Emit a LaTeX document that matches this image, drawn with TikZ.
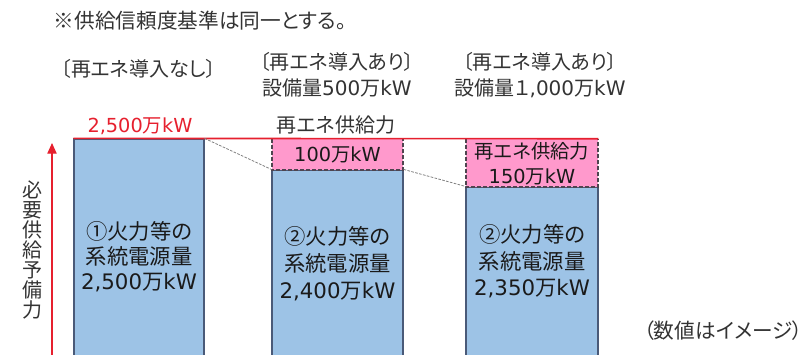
\documentclass[tikz,border=0pt]{standalone}
\usepackage{fontspec}
\setmainfont{Noto Sans CJK JP}[RawFeature=+palt]
\newfontfamily\lat{DejaVu Sans}
\usetikzlibrary{fit,arrows.meta}
\definecolor{barblue}{HTML}{9DC3E6}
\definecolor{barline}{HTML}{4A5A78}
\definecolor{renpink}{HTML}{FF99CC}
\definecolor{redline}{HTML}{E6202E}
\definecolor{pinkedge}{HTML}{4F4550}
\definecolor{connline}{HTML}{808080}
\definecolor{txtgray}{HTML}{333333}
\definecolor{bartext}{HTML}{1A1A1A}
\begin{document}
\begin{tikzpicture}[x=0.75pt,y=-0.75pt,
  txt/.style={font=\fontsize{15}{19.5}\selectfont, text=txtgray, inner sep=0pt, align=center},
  redtxt/.style={font=\fontsize{14.5}{19.5}\selectfont, text=redline, inner sep=0pt, align=center},
  bartxt/.style={font=\fontsize{16}{19.5}\selectfont, text=bartext, inner sep=0pt, align=center},
  pinktxt/.style={font=\fontsize{14.5}{19}\selectfont, text=bartext, inner sep=0pt, align=center},
  vtxt/.style={font=\fontsize{15}{15}\selectfont, text=txtgray, inner sep=0pt, align=center},
  barbox/.style={draw=barline, fill=barblue, line width=0.9pt, inner sep=0pt},
  pinkbox/.style={fill=renpink, inner sep=0pt},
  pinkedgeline/.style={draw=pinkedge, dash pattern=on 3pt off 1.5pt, line width=1.2pt},
  redrule/.style={draw=redline, line width=1.2pt},
  connector/.style={draw=connline, dash pattern=on 2pt off 1pt, line width=0.6pt},
  redarrow/.style={draw=redline, line width=0.8pt, -{Triangle[length=8pt,width=7pt]}}
]
\useasboundingbox (0,0) rectangle (812,354);
\clip (0,0) rectangle (812,354);

% bars
\node[barbox, fit={(74,139) (204,362)}] (bar1) {};
\node[barbox, fit={(272,170) (403,362)}] (bar2) {};
\node[barbox, fit={(466,187) (598,362)}] (bar3) {};
\node[pinkbox, fit={(272,139) (403,170)}] (pink2) {};
\node[pinkbox, fit={(466,139) (598,187)}] (pink3) {};
\draw[pinkedgeline] (pink2.north west) -- (pink2.south west) -- (pink2.south east) -- (pink2.north east);
\draw[pinkedgeline] (pink3.north west) -- (pink3.south west) -- (pink3.south east) -- (pink3.north east);

% red top line
\draw[redrule] (bar1.north west) -- (pink3.north east);

% dotted connectors
\draw[connector] (bar1.north east) -- (bar2.north west);
\draw[connector] (bar2.north east) -- (bar3.north west);

% arrow
\coordinate (arrowbase) at (52,362);
\coordinate (arrowtip) at (52,143);
\draw[redarrow] (arrowbase) -- (arrowtip);

% texts
\node[txt, font=\fontsize{15.5}{19.5}\selectfont] (note) at (200,21) {※供給信頼度基準は同一とする。};
\node[txt] (head1) at (138.5,69) {〔再エネ導入なし〕};
\node[txt] (head2) at (337,75) {〔再エネ導入あり〕\\設備量{\lat 500}万{\lat kW}};
\node[txt] (head3) at (540,75) {〔再エネ導入あり〕\\設備量１{\lat ,000}万{\lat kW}};
\node[redtxt] (total) at (140,126) {{\lat 2,500}万{\lat kW}};
\node[txt] (renlabel) at (336,125) {再エネ供給力};
\node[pinktxt] (pink2txt) at (pink2.center) {{\lat 100}万{\lat kW}};
\node[pinktxt, font=\fontsize{14.5}{18.75}\selectfont] (pink3txt) at (532,164) {再エネ供給力\\{\lat 150}万{\lat kW}};
\node[bartxt, font=\fontsize{16}{18.75}\selectfont] (bar1txt) at (139,257) {①火力等の\\系統電源量\\{\lat 2,500}万{\lat kW}};
\node[bartxt, font=\fontsize{16}{20.25}\selectfont] (bar2txt) at (337.5,263.5) {②火力等の\\系統電源量\\{\lat 2,400}万{\lat kW}};
\node[bartxt, font=\fontsize{16}{19.9}\selectfont] (bar3txt) at (532,261.5) {②火力等の\\系統電源量\\{\lat 2,350}万{\lat kW}};
\node[vtxt] (axis) at (32,250) {必\\要\\供\\給\\予\\備\\力};
\node[txt, font=\fontsize{15.5}{19.5}\selectfont, anchor=east] (imagenote) at (803,331) {（数値はイメージ）};
\end{tikzpicture}
\end{document}
